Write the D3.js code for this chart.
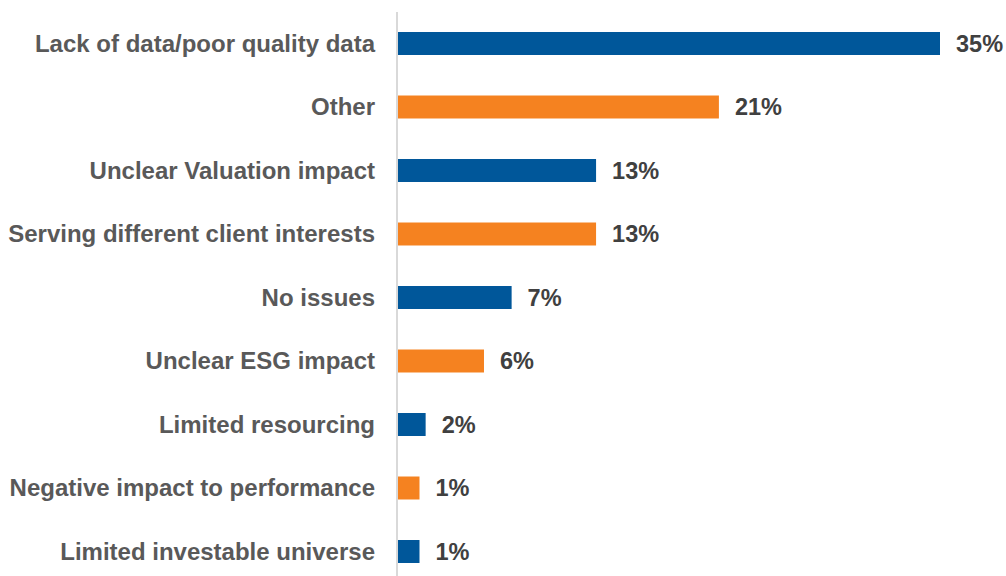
<!DOCTYPE html>
<html><head><meta charset="utf-8">
<script src="https://cdn.jsdelivr.net/npm/d3@7"></script>
<style>html,body{margin:0;padding:0;background:#fff;}svg{display:block;}</style>
</head><body>
<svg id="chart" width="1006" height="576"></svg>
<script>
const categories = [
  "Lack of data/poor quality data",
  "Other",
  "Unclear Valuation impact",
  "Serving different client interests",
  "No issues",
  "Unclear ESG impact",
  "Limited resourcing",
  "Negative impact to performance",
  "Limited investable universe"
];
const values = [35.3, 20.9, 12.9, 12.9, 7.4, 5.6, 1.8, 1.4, 1.4];
const colors = ["#00579a", "#f58220"];

const svg = d3.select("#chart");
const x0 = 398;
const x = d3.scaleLinear().domain([0, 35.3]).range([x0, 940]);
const y = d3.scaleBand().domain(categories).range([11.75, 583.25]).paddingInner(0.638).paddingOuter(0.319);

svg.append("line").attr("x1", 397).attr("x2", 397).attr("y1", 12).attr("y2", 576)
  .attr("stroke", "#d9d9d9").attr("stroke-width", 2);

const data = categories.map((c, i) => ({c, v: values[i], i}));

svg.selectAll("rect.bar").data(data).join("rect").attr("class", "bar")
  .attr("x", x0).attr("y", d => y(d.c))
  .attr("width", d => x(d.v) - x0).attr("height", y.bandwidth())
  .attr("fill", d => colors[d.i % 2]);

svg.selectAll("text.val").data(data).join("text").attr("class", "val")
  .attr("x", d => x(d.v) + 16).attr("y", d => y(d.c) + y.bandwidth() / 2)
  .attr("dy", "0.35em")
  .attr("font-family", "'Liberation Sans', Arial, sans-serif").attr("font-weight", "bold")
  .attr("font-size", 23.5).attr("fill", "#404040")
  .text(d => Math.round(d.v) + "%");

svg.selectAll("text.cat").data(data).join("text").attr("class", "cat")
  .attr("x", 375).attr("y", d => y(d.c) + y.bandwidth() / 2)
  .attr("dy", "0.35em").attr("text-anchor", "end")
  .attr("font-family", "'Liberation Sans', Arial, sans-serif").attr("font-weight", "bold")
  .attr("font-size", 24).attr("fill", "#595959")
  .text(d => d.c);
</script>
</body></html>
